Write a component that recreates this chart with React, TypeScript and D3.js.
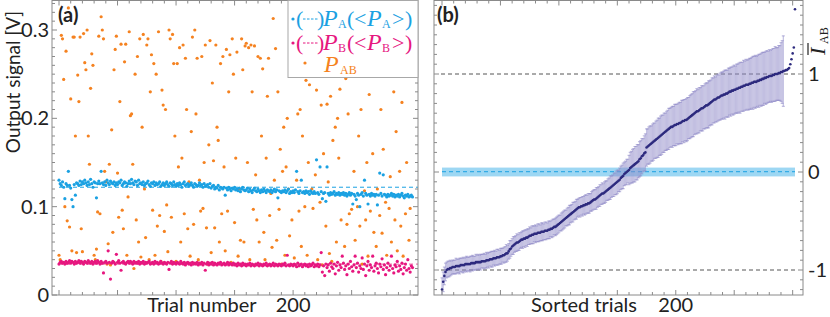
import * as d3 from 'd3';

// trial index 0..302, values in mV (x0.001 V)
const pA = [
  130,126,124,128,122,109,126,124,140,124, 121,108,100,125,113,127,126,124,129,125,
  128,126,130,127,124,128,125,131,126,122, 128,127,110,126,129,126,140,127,125,128,
  124,130,127,125,129,127,126,128,124,127, 125,128,127,130,124,126,128,127,123,126,
  129,126,131,127,125,129,128,124,130,126, 127,125,128,124,126,127,129,125,123,127,
  126,128,124,127,125,126,128,123,125,127, 124,126,128,125,123,127,126,124,128,125,
  123,126,124,127,125,122,126,128,124,125, 126,123,125,127,124,122,126,125,123,124,
  127,124,125,122,126,123,124,125,122,126, 121,123,124,120,122,121,124,119,122,121,
  120,122,113,121,119,122,120,118,121,120, 122,119,120,118,121,117,120,122,119,118,
  119,121,117,120,118,116,119,121,118,117, 120,118,116,119,117,120,118,116,119,118,
  117,119,116,118,120,117,119,110,118,117, 116,118,117,119,116,118,120,115,117,116,
  118,116,119,140,117,115,118,130,116,117, 115,118,116,117,114,118,116,115,117,115,
  153,116,114,145,117,109,115,116,106,145, 115,113,116,114,115,117,113,115,114,116,
  113,115,114,116,113,115,112,114,116,113, 115,103,114,112,108,115,113,100,114,116,
  112,130,115,113,103,114,112,115,113,114, 112,114,102,113,138,115,112,136,114,113,
  111,114,112,113,115,112,114,111,113,112, 114,111,113,115,112,110,113,112,114,111,
  112,113,111,
];
const pB = [
  35,37,38,36,37,35,38,36,37,39, 36,38,37,35,38,36,37,39,36,38,
  37,35,38,37,36,39,37,36,38,35, 37,38,36,39,37,35,38,36,25,37,
  38,36,50,37,18,36,38,37,35,46, 37,39,36,28,37,38,36,35,37,38,
  36,38,37,35,38,36,37,36,38,35, 37,36,38,35,37,36,37,38,35,36,
  37,35,38,36,37,35,36,38,36,35, 37,36,35,37,29,36,38,35,37,36,
  35,37,36,35,38,36,35,37,34,36, 37,35,36,34,37,35,36,35,37,34,
  36,35,37,34,36,28,35,37,34,36, 35,37,34,36,35,34,36,35,37,34,
  35,36,34,35,37,34,36,35,34,36, 34,35,33,36,34,35,33,36,34,35,
  33,35,34,36,33,35,34,33,35,34, 36,33,35,34,33,35,34,36,33,34,
  35,33,34,36,33,35,34,33,35,34, 33,35,34,36,33,45,34,33,35,34,
  33,35,34,32,36,33,34,35,32,34, 35,33,34,32,35,33,34,36,32,34,
  33,35,32,34,48,26,33,22,35,31, 34,27,36,32,30,35,24,33,37,28,
  34,31,44,36,29,33,23,35,30,38, 32,27,34,44,31,36,26,33,30,42,
  29,35,22,33,38,28,34,31,44,27, 33,36,30,25,35,32,41,29,34,23,
  31,36,28,33,44,30,25,34,32,38, 27,33,29,36,24,31,35,28,40,30,
  26,33,31,
];
const pAB = [
  45,40,294,290,244,100,276,84,325,77, 222,50,292,292,180,48,249,219,292,75,
  49,296,263,255,300,180,148,234,273,260, 45,40,52,94,293,92,315,300,290,140,
  128,35,58,148,34,187,71,255,278,293, 138,88,219,284,96,75,264,284,45,111,
  298,203,205,148,30,250,85,270,60,290, 43,190,295,120,65,283,290,40,230,272,
  96,262,45,250,78,298,90,38,232,215, 72,210,102,49,300,290,88,295,262,180,
  38,262,145,280,60,155,283,92,268,210, 75,128,44,185,292,80,300,205,268,40,
  130,95,270,98,150,283,76,35,170,288, 48,240,152,76,283,190,175,60,262,92,
  270,145,50,278,95,230,272,37,290,250, 82,155,275,44,120,62,290,255,60,282,
  285,150,280,40,283,230,97,282,136,85, 270,60,268,180,256,71,40,155,225,268,
  90,115,54,313,130,279,62,230,97,165, 35,140,190,45,145,200,120,67,252,85,
  248,42,290,130,205,95,210,55,180,265, 100,243,45,150,238,275,120,98,258,136,
  232,40,250,105,215,34,160,252,78,216, 128,47,225,38,175,290,190,60,200,155,
  233,85,115,288,55,245,80,205,92,267, 97,295,140,62,250,100,180,78,210,35,
  262,118,85,150,44,227,95,300,160,71, 294,55,120,288,90,210,70,165,283,105,
  45,275,98,134,60,290,230,85,185,50, 282,140,78,218,44,270,92,150,295,62,
  98,283,255,
];
const meanPA = 0.122;
const meanPB = 0.035;

// sorted correlator (x0.01) and its error (x0.01)
const iAB = [
  -120,-112,-106,-102,-100,-99,-99,-98,-98,-97, -97,-97,-96,-96,-96,-96,-95,-95,-95,-95,
  -94,-94,-94,-94,-94,-93,-93,-93,-93,-92, -92,-92,-92,-92,-91,-91,-91,-91,-90,-90,
  -90,-89,-89,-89,-88,-88,-88,-87,-87,-87, -86,-86,-85,-85,-84,-83,-83,-81,-79,-78,
  -76,-75,-74,-73,-72,-72,-71,-70,-69,-69, -68,-68,-67,-67,-66,-65,-65,-64,-64,-63,
  -63,-63,-62,-62,-62,-61,-61,-61,-60,-60, -60,-59,-59,-58,-58,-57,-56,-56,-55,-54,
  -53,-52,-51,-50,-49,-48,-47,-46,-45,-44, -43,-42,-41,-40,-39,-38,-37,-36,-36,-35,
  -35,-34,-34,-33,-33,-32,-32,-31,-30,-29, -28,-28,-27,-26,-25,-24,-23,-22,-22,-21,
  -20,-19,-18,-17,-16,-15,-14,-13,-12,-11, -10,-9,-8,-6,-5,-4,-2,-1,0,1,
  2,4,5,6,7,8,9,10,11,13, 14,16,17,19,20,25,26,27,28,29,
  30,31,32,33,34,35,36,37,38,39, 40,41,42,43,44,45,46,46,47,48,
  48,49,49,50,50,51,52,52,53,53, 54,55,56,57,58,59,60,61,62,62,
  63,64,65,65,66,67,68,68,69,70, 71,72,73,74,74,75,76,76,77,78,
  78,79,79,80,80,81,82,82,83,83, 84,84,85,85,86,86,87,87,88,88,
  89,89,89,90,90,91,91,92,92,92, 93,93,94,94,95,95,96,96,97,97,
  98,98,98,99,99,100,100,100,101,101, 102,102,103,103,104,104,105,106,110,115,
  121,127,166,
];
const iErr = [
  12,10,9,9,8,8,8,8,7,7, 7,7,8,7,7,8,7,7,8,7, 7,8,7,7,8,7,8,7,7,8, 7,8,7,8,7,7,8,7,8,7,
  8,7,8,8,7,8,7,8,8,7, 8,8,7,8,8,9,8,8,9,8, 8,9,8,8,9,8,9,8,8,9, 8,9,8,9,8,9,8,9,9,8,
  9,8,9,9,8,9,9,8,9,9, 8,9,9,8,9,9,8,9,9,9, 9,8,9,9,9,9,8,9,9,10, 9,9,10,9,9,10,9,9,10,9,
  10,9,10,10,9,10,10,9,10,10, 10,10,11,10,10,11,10,11,10,11, 11,10,11,11,12,11,11,12,11,12,
  12,11,12,12,12,13,12,12,13,12, 15,16,16,17,17,18,17,18,17,18,
  18,18,17,18,19,19,18,19,19,18, 19,19,18,19,19,20,19,20,20,19,
  20,19,20,20,21,20,20,21,20,21, 21,20,21,21,21,22,21,22,21,22,
  22,21,22,22,22,23,22,22,23,22, 23,22,23,23,22,23,23,23,24,23,
  23,24,23,24,23,24,24,23,24,24, 24,24,25,24,24,25,24,25,24,25,
  25,24,25,25,25,26,25,25,26,25, 26,25,26,26,26,26,27,26,27,26,
  26,27,26,27,27,27,26,27,27,26, 27,26,27,27,27,28,27,27,28,28,
  30,32,36,
];

const xTickLabels = [200];
const yTickLabelsA = [0, 0.1, 0.2, 0.3];
const yTickLabelsB = [1, 0, -1];

const BLUE = '#1ba1e2';
const MAGENTA = '#e6177f';
const ORANGE = '#f58220';
const NAVY = '#2d2a7e';
const FRAME = '#8a8a8a';
const TXT = '#222';
const SANS = 'Lato, "Open Sans", sans-serif';
const SERIF = '"Liberation Serif", "DejaVu Serif", serif';

function Frame({ x0, x1, y0, y1, xt, yt }: any) {
  const out: any[] = [];
  xt.forEach((t: any, i: number) => {
    const L = t.major ? 5 : 3;
    out.push(<line key={'xb' + i} x1={t.p} x2={t.p} y1={y1} y2={y1 - L} />);
    out.push(<line key={'xt' + i} x1={t.p} x2={t.p} y1={y0} y2={y0 + L} />);
  });
  yt.forEach((t: any, i: number) => {
    const L = t.major ? 5 : 3;
    out.push(<line key={'yl' + i} x1={x0} x2={x0 + L} y1={t.p} y2={t.p} />);
    out.push(<line key={'yr' + i} x1={x1} x2={x1 - L} y1={t.p} y2={t.p} />);
  });
  return (
    <g stroke={FRAME} strokeWidth={1} fill="none">
      <rect x={x0} y={y0} width={x1 - x0} height={y1 - y0} />
      {out}
    </g>
  );
}

export default function App() {
  const trials = pA.map((_, i) => i);

  // panel (a)
  const aL = 52, aR = 418, top = 0.5, bot = 295;
  const xA = d3.scaleLinear().domain([0, 302]).range([59, 412.5]);
  const yA = d3.scaleLinear().domain([0, 0.3]).range([295, 30]);
  const xtA = d3.range(0, 301, 10).map(t => ({ p: xA(t), major: t % 50 === 0 }));
  const ytA = d3.range(0, 34).map(k => ({ p: yA(k / 100), major: k % 10 === 0 })).filter(t => t.p > top + 1);

  // panel (b)
  const bL = 434, bR = 803;
  const xB = d3.scaleLinear().domain([0, 302]).range([442, 795]);
  const yB = d3.scaleLinear().domain([-1, 1]).range([270, 74]);
  const xtB = d3.range(0, 301, 10).map(t => ({ p: xB(t), major: t % 50 === 0 }));
  const ytB = d3.range(-12, 18).map(k => ({ p: yB(k / 10), major: k % 10 === 0 })).filter(t => t.p > top + 1 && t.p < bot - 1);

  const legendRow = (y: number, color: string, sub: string) => (
    <g fill={color} fontFamily={SERIF}>
      <circle cx={293} cy={y - 7} r={1.6} />
      <text x={296} y={y} fontSize={22}>(</text>
      <line x1={303} x2={318} y1={y - 7} y2={y - 7} stroke={color} strokeWidth={1} strokeDasharray="2.5,1.5" />
      <text y={y} fontSize={22}>
        <tspan x={317}>)</tspan>
        <tspan x={323} fontStyle="italic" fontSize={24}>P</tspan>
        <tspan x={338} fontSize={12} dy={2}>{sub}</tspan>
        <tspan x={347} dy={-2}>(</tspan>
        <tspan x={354}>&lt;</tspan>
        <tspan x={367} fontStyle="italic" fontSize={24}>P</tspan>
        <tspan x={382} fontSize={12} dy={2}>{sub}</tspan>
        <tspan x={392} dy={-2}>&gt;</tspan>
        <tspan x={405}>)</tspan>
      </text>
    </g>
  );

  return (
    <svg width={830} height={317} style={{ position: 'absolute', left: 0, top: 0, background: '#fff' }}>
      <defs>
        <clipPath id="clipA"><rect x={aL} y={top} width={aR - aL} height={bot - top} /></clipPath>
        <clipPath id="clipB"><rect x={bL} y={top} width={bR - bL} height={bot - top} /></clipPath>
      </defs>

      {/* ---------- panel (a) ---------- */}
      <g clipPath="url(#clipA)">
        <line x1={59} x2={aR} y1={yA(meanPA)} y2={yA(meanPA)} stroke={BLUE} strokeWidth={1} strokeDasharray="4,3" />
        <line x1={59} x2={aR} y1={yA(meanPB)} y2={yA(meanPB)} stroke="#f07ab2" strokeWidth={1.2} strokeDasharray="4,3" />
        {trials.map(i => <circle key={'ab' + i} cx={xA(i)} cy={yA(pAB[i] / 1000)} r={1.6} fill={ORANGE} />)}
        {trials.map(i => <circle key={'a' + i} cx={xA(i)} cy={yA(pA[i] / 1000)} r={1.6} fill={BLUE} />)}
        {trials.map(i => <circle key={'b' + i} cx={xA(i)} cy={yA(pB[i] / 1000)} r={1.6} fill={MAGENTA} />)}
      </g>
      <Frame x0={aL} x1={aR} y0={top} y1={bot} xt={xtA} yt={ytA} />

      {/* legend */}
      <rect x={288} y={top} width={aR - 288} height={77} fill="#fff" stroke="#a8a8a8" strokeWidth={1} />
      {legendRow(26, BLUE, 'A')}
      {legendRow(50, MAGENTA, 'B')}
      <g fill={ORANGE} fontFamily={SERIF}>
        <circle cx={305} cy={63} r={1.6} />
        <text y={72} fontSize={24}>
          <tspan x={324} fontStyle="italic">P</tspan>
          <tspan x={340} fontSize={12} dy={2}>AB</tspan>
        </text>
      </g>

      <text x={58} y={22} fontFamily={SANS} fontWeight="bold" fontSize={20} fill={TXT}>(a)</text>
      {yTickLabelsA.map(v => (
        <text key={'ya' + v} x={49} y={yA(v) + 7} textAnchor="end" fontFamily={SANS} fontSize={20} fill={TXT}>{String(v)}</text>
      ))}
      <text transform="translate(20,82) rotate(-90)" textAnchor="middle" fontFamily={SANS} fontSize={19} fill={TXT}>Output signal [V]</text>
      <text x={202} y={312} textAnchor="middle" fontFamily={SANS} fontSize={20} fill={TXT}>Trial number</text>
      {xTickLabels.map(t => (
        <text key={'xa' + t} x={xA(t)} y={312} textAnchor="middle" fontFamily={SANS} fontSize={20} fill={TXT}>{t}</text>
      ))}

      {/* ---------- panel (b) ---------- */}
      <g clipPath="url(#clipB)">
        <rect x={xB(0)} y={yB(0.045)} width={xB(302) - xB(0)} height={yB(-0.045) - yB(0.045)} fill="#7ccaef" opacity={0.75} />
        <line x1={xB(0)} x2={xB(302)} y1={yB(0.003)} y2={yB(0.003)} stroke={BLUE} strokeWidth={1} strokeDasharray="4,3" />
        <line x1={441} x2={797} y1={yB(1)} y2={yB(1)} stroke="#555" strokeWidth={1} strokeDasharray="4,3" />
        <line x1={441} x2={797} y1={yB(-1)} y2={yB(-1)} stroke="#555" strokeWidth={1} strokeDasharray="4,3" />
        <g stroke="#8f8ac8" strokeOpacity={0.55} strokeWidth={1.2}>
          {trials.map(i => {
            const x = xB(i), y1 = yB((iAB[i] + iErr[i]) / 100), y2 = yB((iAB[i] - iErr[i]) / 100);
            return (
              <g key={'e' + i}>
                <line x1={x} x2={x} y1={y1} y2={y2} />
                <line x1={x - 1.5} x2={x + 1.5} y1={y1} y2={y1} />
                <line x1={x - 1.5} x2={x + 1.5} y1={y2} y2={y2} />
              </g>
            );
          })}
        </g>
        {trials.map(i => <circle key={'i' + i} cx={xB(i)} cy={yB(iAB[i] / 100)} r={1.3} fill={NAVY} />)}
      </g>
      <Frame x0={bL} x1={bR} y0={top} y1={bot} xt={xtB} yt={ytB} />

      <text x={437} y={22} fontFamily={SANS} fontWeight="bold" fontSize={20} fill={TXT}>(b)</text>
      {yTickLabelsB.map(v => (
        <text key={'yb' + v} x={808} y={yB(v) + 7} fontFamily={SANS} fontSize={20} fill={TXT}>{String(v)}</text>
      ))}
      <g transform="translate(825,55) rotate(-90)" fill={TXT}>
        <line x1={0} x2={12} y1={-17} y2={-17} stroke={TXT} strokeWidth={1.2} />
        <text x={0} y={0} fontFamily={SERIF} fontStyle="italic" fontSize={22}>I</text>
        <text x={11} y={3} fontFamily={SERIF} fontSize={12}>AB</text>
      </g>
      <text x={584} y={312} textAnchor="middle" fontFamily={SANS} fontSize={20} fill={TXT}>Sorted trials</text>
      {xTickLabels.map(t => (
        <text key={'xb' + t} x={xB(t)} y={312} textAnchor="middle" fontFamily={SANS} fontSize={20} fill={TXT}>{t}</text>
      ))}
    </svg>
  );
}
